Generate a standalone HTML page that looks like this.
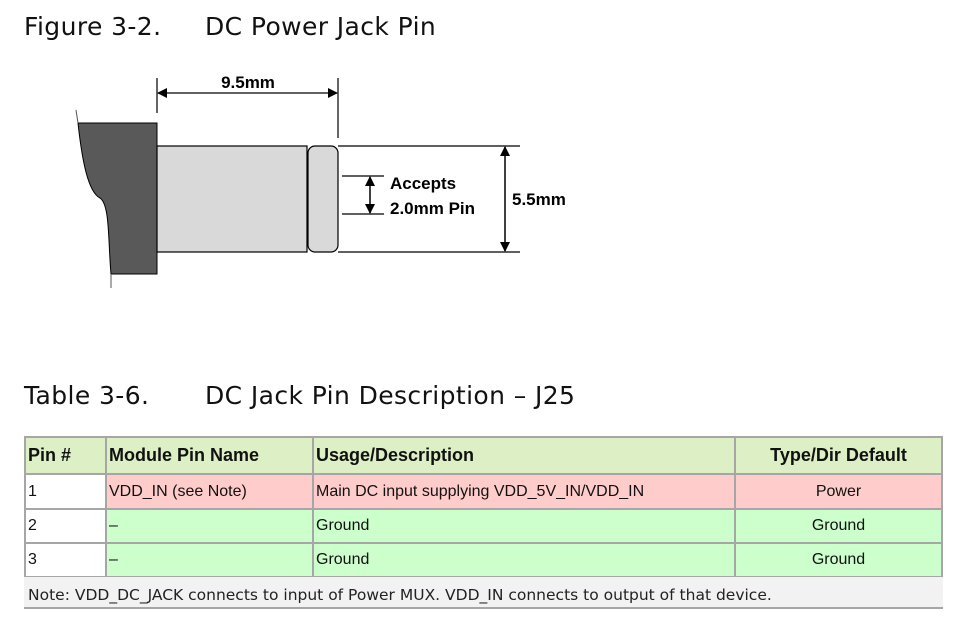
<!DOCTYPE html>
<html><head><style>
body{margin:0;width:959px;height:628px;background:#fff;position:relative;font-family:"DejaVu Sans","Liberation Sans",sans-serif;overflow:hidden}
.t{position:absolute;font-size:25px;color:#111;letter-spacing:0.4px}
table{position:absolute;left:24px;top:436px;border-collapse:collapse;width:919px;font-family:"Liberation Sans",sans-serif;table-layout:fixed}
td{border:2px solid #a6a6a6;padding:0 2px;font-size:16px;color:#111;white-space:nowrap;overflow:hidden}
.h td{background:#ddefc4;font-weight:bold;font-size:18px}
.r td{background:#ffcccc}
.g td{background:#ccffcc}
.w{background:#fff!important}
.c{text-align:center}
.note{position:absolute;left:24px;top:577px;width:919px;height:32px;background:#f2f2f2;border-bottom:2px solid #a6a6a6;font-size:15.5px;line-height:36px;padding-left:4px;box-sizing:border-box;color:#222}
</style></head><body>
<div class="t" style="left:24px;top:12px">Figure 3-2.</div>
<div class="t" style="left:205px;top:12px">DC Power Jack Pin</div>
<div class="t" style="left:24px;top:381px">Table 3-6.</div>
<div class="t" style="left:205px;top:381px">DC Jack Pin Description – J25</div>
<svg width="959" height="320" style="position:absolute;left:0;top:0" font-family="Liberation Sans,sans-serif">
<defs><marker id="a" markerWidth="10" markerHeight="10" refX="9" refY="5" orient="auto-start-reverse" markerUnits="userSpaceOnUse"><path d="M0,0 L10,5 L0,10 z" fill="#000"/></marker></defs>
<path d="M78,123 L157,123 L157,274 L111,274 C108,240 110,205 100,198 C88,192 82,160 78,123 Z" fill="#595959" stroke="#000" stroke-width="1"/>
<line x1="76" y1="110" x2="78" y2="123" stroke="#555"/>
<line x1="111" y1="274" x2="111" y2="288" stroke="#555"/>
<rect x="157" y="146" width="150" height="106" fill="#d9d9d9" stroke="#000" stroke-width="1.2"/>
<rect x="308" y="146" width="30" height="106" rx="7" fill="#d9d9d9" stroke="#000" stroke-width="1.2"/>
<line x1="157" y1="78" x2="157" y2="113" stroke="#000" stroke-width="1.2"/>
<line x1="338" y1="78" x2="338" y2="138" stroke="#000" stroke-width="1.2"/>
<line x1="158" y1="93" x2="337" y2="93" stroke="#000" stroke-width="1.2" marker-start="url(#a)" marker-end="url(#a)"/>
<text x="248" y="88" text-anchor="middle" font-weight="bold" font-size="17">9.5mm</text>
<line x1="338" y1="146" x2="520" y2="146" stroke="#000" stroke-width="1.2"/>
<line x1="338" y1="252" x2="520" y2="252" stroke="#000" stroke-width="1.2"/>
<line x1="505" y1="147" x2="505" y2="251" stroke="#000" stroke-width="1.5" marker-start="url(#a)" marker-end="url(#a)"/>
<text x="512" y="205" font-weight="bold" font-size="17">5.5mm</text>
<line x1="342" y1="176" x2="384" y2="176" stroke="#000" stroke-width="1.2"/>
<line x1="342" y1="214" x2="384" y2="214" stroke="#000" stroke-width="1.2"/>
<line x1="370" y1="177" x2="370" y2="213" stroke="#000" stroke-width="1.5" marker-start="url(#a)" marker-end="url(#a)"/>
<text x="390" y="189" font-weight="bold" font-size="17">Accepts</text>
<text x="390" y="214" font-weight="bold" font-size="17">2.0mm Pin</text>
</svg>
<table>
<colgroup><col style="width:81px"><col style="width:207px"><col style="width:422px"><col></colgroup>
<tr class="h" style="height:37px"><td>Pin #</td><td>Module Pin Name</td><td>Usage/Description</td><td class="c">Type/Dir Default</td></tr>
<tr class="r" style="height:35px"><td class="w">1</td><td>VDD_IN (see Note)</td><td>Main DC input supplying VDD_5V_IN/VDD_IN</td><td class="c">Power</td></tr>
<tr class="g" style="height:34px"><td class="w">2</td><td>–</td><td>Ground</td><td class="c">Ground</td></tr>
<tr class="g" style="height:34px"><td class="w">3</td><td>–</td><td>Ground</td><td class="c">Ground</td></tr>
</table>
<div class="note">Note: VDD_DC_JACK connects to input of Power MUX. VDD_IN connects to output of that device.</div>
</body></html>
